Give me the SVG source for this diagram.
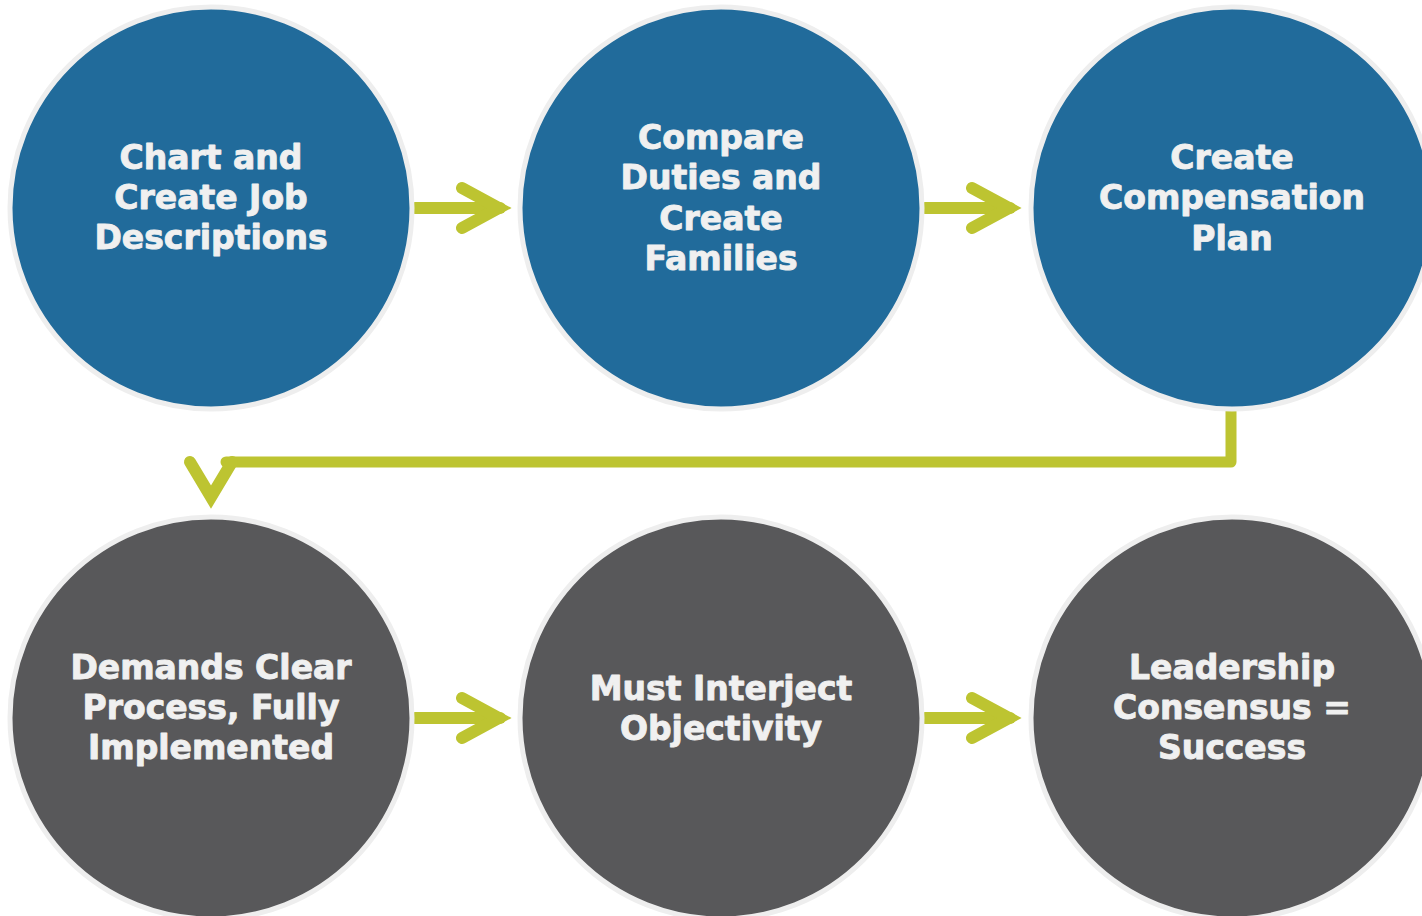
<svg xmlns="http://www.w3.org/2000/svg" width="1422" height="916" viewBox="0 0 1422 916">
  <style>
    .step circle { stroke: #eeeeee; stroke-width: 5; }
    .blue circle { fill: #216b9b; }
    .gray circle { fill: #58585a; }
    .step text { font-family: "DejaVu Sans", Verdana, sans-serif; font-weight: bold; font-size: 33px; fill: #f0f0f0; stroke: #f0f0f0; stroke-width: 0.9; stroke-linejoin: round; text-anchor: middle; }
    .conn { fill: none; stroke: #bdc431; stroke-width: 12; stroke-linecap: round; }
    .head { stroke-linejoin: miter; stroke-miterlimit: 10; }
  </style>
  <rect width="1422" height="916" fill="#ffffff"/>

  <!-- connectors -->
  <g id="connectors">
    <path class="conn" d="M415,208 H500"/>
    <polyline class="conn head" points="462,188 499,208 462,228"/>
    <path class="conn" d="M925,208 H1010"/>
    <polyline class="conn head" points="972,188 1009,208 972,228"/>
    <path class="conn" d="M1231,411 V462 H226" stroke-linejoin="round" stroke-linecap="butt" style="stroke-width:11"/>
    <polyline class="conn head" points="190,462 211,497 232,462"/>
    <path class="conn" d="M415,718 H500"/>
    <polyline class="conn head" points="462,698 499,718 462,738"/>
    <path class="conn" d="M925,718 H1010"/>
    <polyline class="conn head" points="972,698 1009,718 972,738"/>
  </g>

  <!-- top row -->
  <g id="chart-job-descriptions" class="step blue">
    <circle cx="211" cy="208" r="201"/>
    <text x="211" y="169">Chart and</text>
    <text x="211" y="209">Create Job</text>
    <text x="211" y="249">Descriptions</text>
  </g>
  <g id="compare-duties" class="step blue">
    <circle cx="721" cy="208" r="201"/>
    <text x="721" y="149">Compare</text>
    <text x="721" y="189">Duties and</text>
    <text x="721" y="230">Create</text>
    <text x="721" y="270">Families</text>
  </g>
  <g id="compensation-plan" class="step blue">
    <circle cx="1232" cy="208" r="201"/>
    <text x="1232" y="169">Create</text>
    <text x="1232" y="209">Compensation</text>
    <text x="1232" y="250">Plan</text>
  </g>

  <!-- bottom row -->
  <g id="clear-process" class="step gray">
    <circle cx="211" cy="718" r="201"/>
    <text x="211" y="679">Demands Clear</text>
    <text x="211" y="719">Process, Fully</text>
    <text x="211" y="759">Implemented</text>
  </g>
  <g id="objectivity" class="step gray">
    <circle cx="721" cy="718" r="201"/>
    <text x="721" y="700">Must Interject</text>
    <text x="721" y="740">Objectivity</text>
  </g>
  <g id="leadership-consensus" class="step gray">
    <circle cx="1232" cy="718" r="201"/>
    <text x="1232" y="679">Leadership</text>
    <text x="1232" y="719">Consensus =</text>
    <text x="1232" y="759">Success</text>
  </g>
</svg>
